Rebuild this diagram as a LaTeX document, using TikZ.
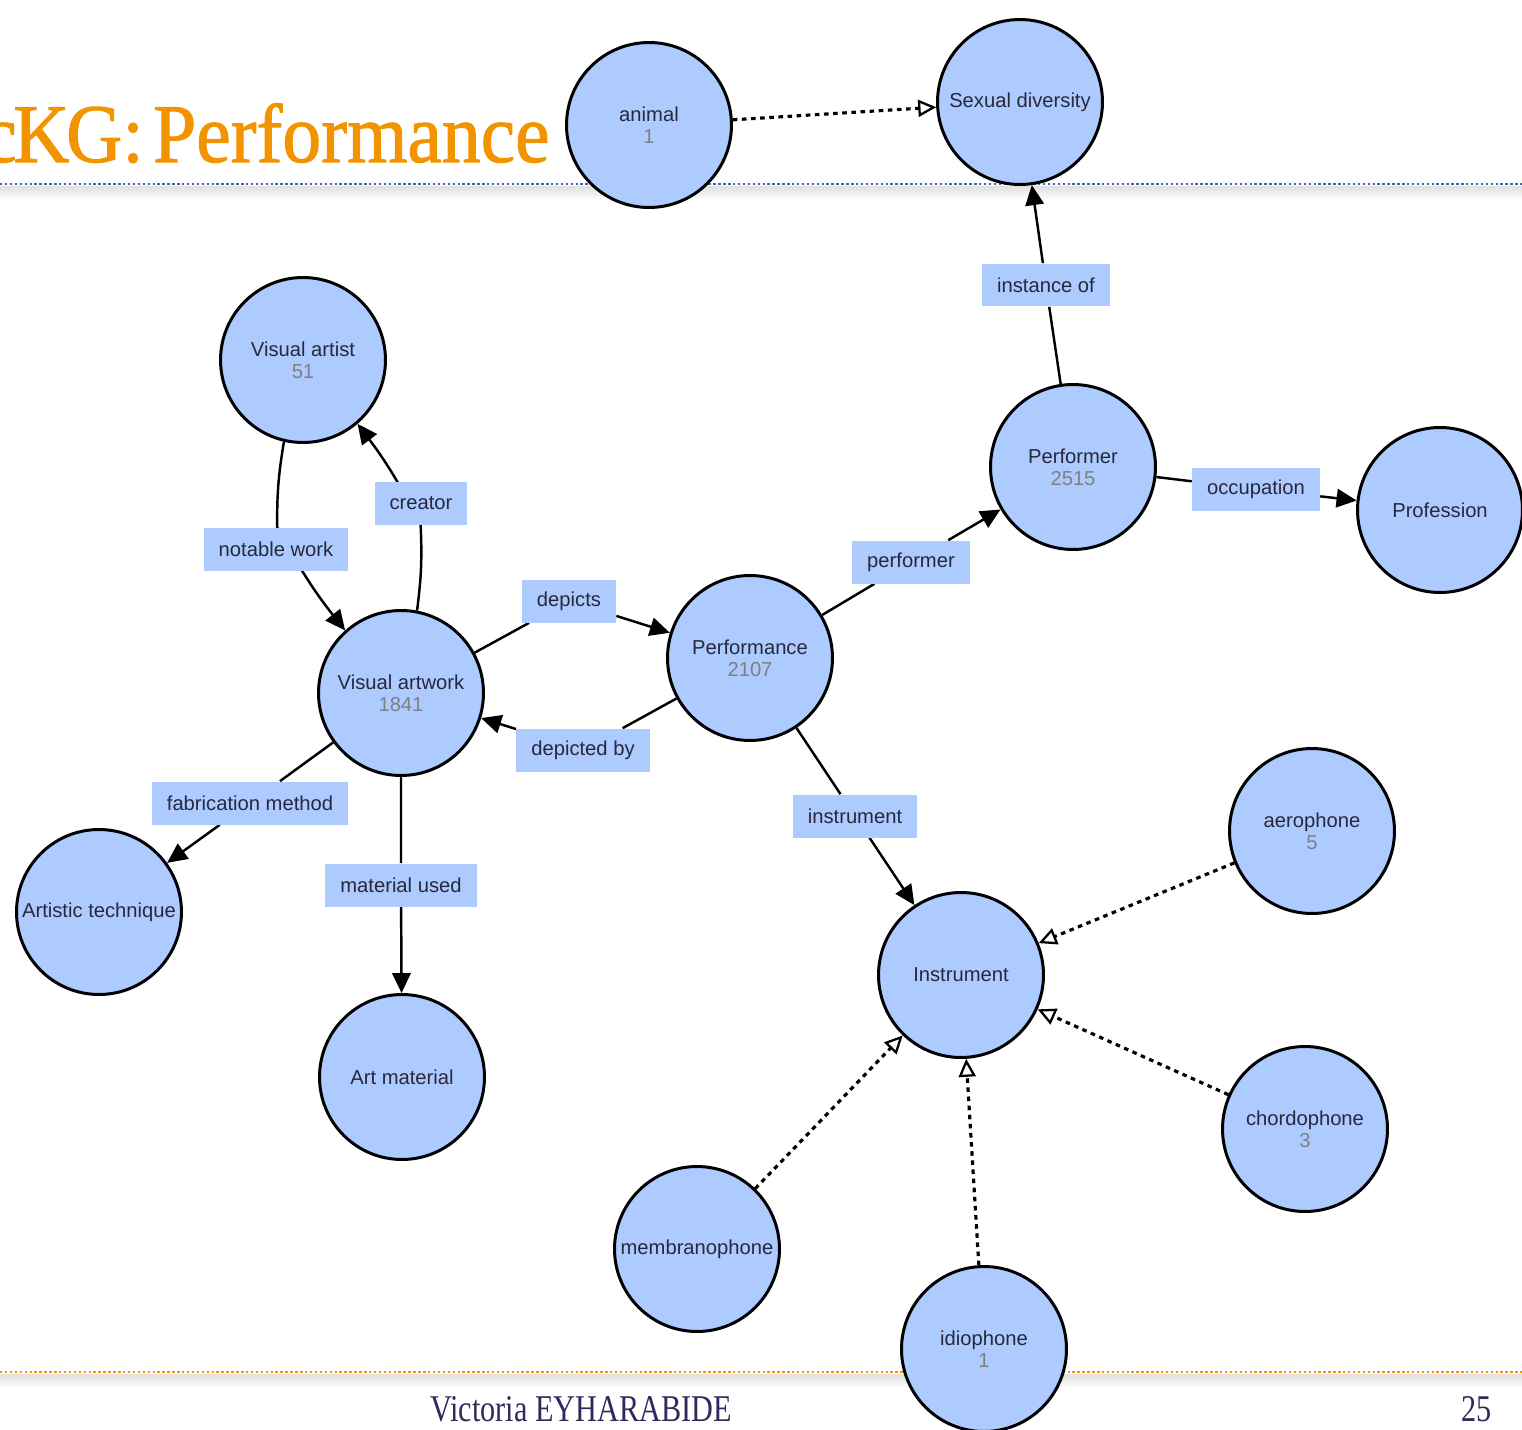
\documentclass[tikz,border=0pt]{standalone}
\usepackage{fontspec}
\setmainfont{Liberation Sans}
\newfontfamily\titlefont[FakeStretch=0.93, FakeBold=1.2]{Liberation Serif}
\newfontfamily\footfont[FakeStretch=0.8]{Liberation Serif}
\usetikzlibrary{arrows.meta, backgrounds}

\definecolor{nodeblue}{RGB}{173,203,255}
\definecolor{titleorange}{RGB}{242,148,0}
\definecolor{ruleblue}{RGB}{63,102,181}
\definecolor{footnavy}{RGB}{45,42,92}
\definecolor{labeltext}{RGB}{40,40,60}
\definecolor{countgray}{RGB}{128,128,128}

\newcommand{\instcount}[1]{\\\textcolor{countgray}{#1}}

\begin{document}
\begin{tikzpicture}[x=0.02cm, y=-0.02cm,
  entity/.style={circle, draw=black, line width=1.7pt, fill=nodeblue,
    minimum size=3.3cm, inner sep=0pt, align=center, text=labeltext,
    font=\fontsize{11.5}{12.5}\selectfont},
  relation/.style={rectangle, fill=nodeblue, minimum height=0.86cm,
    inner xsep=0.3cm, text=labeltext, font=\fontsize{11.5}{12.5}\selectfont},
  link/.style={line width=1.4pt, -{Triangle[length=0.4cm, width=0.37cm]}},
  subclass/.style={line width=1.8pt, dash pattern=on 2.6pt off 2.6pt,
    -{Triangle[open, length=0.36cm, width=0.34cm, fill=white, line width=1.3pt]}},
  dotrule/.style={line width=1.6pt, dash pattern=on 1.4pt off 1.4pt},
]

\useasboundingbox (0,0) rectangle (1522,1430);
\clip (0,0) rectangle (1522,1430);

% Slide title
\node[anchor=base east, inner sep=0pt, text=titleorange,
  font=\titlefont\fontsize{47.5}{47.5}\selectfont] (title) at (550,162)
  {c\kern-0.04em K\kern-0.04em G:\hspace{-0.12em} Performance};
\node[anchor=base, inner sep=0pt, text=footnavy,
  font=\footfont\fontsize{21.5}{21.5}\selectfont] (author) at (581,1421) {Victoria EYHARABIDE};
\node[anchor=base east, inner sep=0pt, text=footnavy,
  font=\footfont\fontsize{21.5}{21.5}\selectfont] (pagenum) at (1492,1421) {25};

% Classes
\node[entity] (animal) at (649,125) {animal\instcount{1}};
\node[entity] (sexdiv) at (1020,102) {Sexual diversity};
\node[entity] (vartist) at (303,360) {Visual artist\instcount{51}};
\node[entity] (performer) at (1073,467) {Performer\instcount{2515}};
\node[entity] (profession) at (1440,510) {Profession};
\node[entity] (vartwork) at (401,693) {Visual artwork\instcount{1841}};
\node[entity] (performance) at (750,658) {Performance\instcount{2107}};
\node[entity] (technique) at (99,912) {Artistic technique};
\node[entity] (material) at (402,1077) {Art material};
\node[entity] (instrument) at (961,975) {Instrument};
\node[entity] (aerophone) at (1312,831) {aerophone\instcount{5}};
\node[entity] (chordophone) at (1305,1129) {chordophone\instcount{3}};
\node[entity] (membranophone) at (697,1249) {membranophone};
\node[entity] (idiophone) at (984,1349) {idiophone\instcount{1}};

% Property labels
\node[relation] (instanceof) at (1046,285) {instance of};
\node[relation] (creator) at (421,503) {creator};
\node[relation] (notable) at (276,549) {notable work};
\node[relation] (depicts) at (569,601) {depicts};
\node[relation] (depictedby) at (583,750) {depicted by};
\node[relation] (performerrel) at (911,562) {performer};
\node[relation] (occupation) at (1256,489) {occupation};
\node[relation] (fabrication) at (250,803) {fabrication method};
\node[relation] (materialused) at (401,885) {material used};
\node[relation] (instrumentrel) at (855,816) {instrument};

\begin{pgfonlayer}{background}
% Slide rules
\draw[ruleblue, dotrule] (0,184) -- (1522,184);
\shade[top color=black!12, bottom color=white] (0,186) rectangle (1522,200);
\draw[titleorange, dotrule] (0,1372) -- (1522,1372);
\shade[top color=black!12, bottom color=white] (0,1374) rectangle (1522,1388);

% Properties
\draw[link] (vartist) to[bend right=5] (notable) to[bend right=5] (vartwork);
\draw[link] (vartwork) to[bend right=5] (creator) to[bend right=5] (vartist);
\draw[link] (vartwork) -- (depicts) -- (performance);
\draw[link] (performance) -- (depictedby) -- (vartwork);
\draw[link] (performance) -- (performerrel) -- (performer);
\draw[link] (performer) -- (instanceof) -- (sexdiv);
\draw[link] (performer) -- (occupation) -- (profession);
\draw[link] (vartwork) -- (fabrication) -- (technique);
\draw[link] (vartwork) -- (materialused) -- (material);
\draw[link] (performance) -- (instrumentrel) -- (instrument);

% Subclass of
\draw[subclass] (animal) -- (sexdiv);
\draw[subclass] (aerophone) -- (instrument);
\draw[subclass] (chordophone) -- (instrument);
\draw[subclass] (membranophone) -- (instrument);
\draw[subclass] (idiophone) -- (instrument);
\end{pgfonlayer}

\end{tikzpicture}
\end{document}
